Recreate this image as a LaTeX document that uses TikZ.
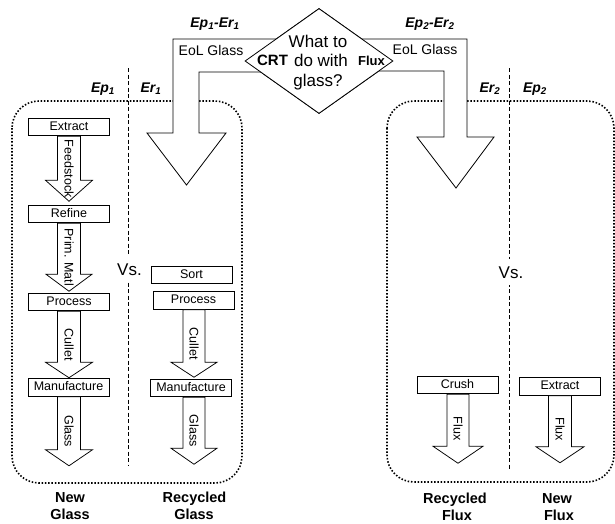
\documentclass[tikz,border=0pt]{standalone}
\usepackage{fontspec}
\setmainfont{Liberation Sans}
\usetikzlibrary{shapes.geometric}
\tikzset{
  procbox/.style={draw, line width=1pt, fill=white, minimum width=81pt, minimum height=17.5pt,
    inner sep=0pt, text height=9pt, text depth=2.6pt, font=\fontsize{12.5}{14}\selectfont},
  fatarrow/.style={draw, line width=0.75pt, fill=white, line join=miter},
  arrlabel/.style={rotate=-90, inner sep=0pt, font=\fontsize{12.5}{14}\selectfont},
  bigarrow/.style={draw, line width=0.8pt, fill=white, line join=miter},
  dotbox/.style={line width=1.6pt, dash pattern=on 1.5pt off 1.8pt, rounded corners=27pt},
  divider/.style={line width=0.8pt, dash pattern=on 4pt off 2.5pt},
  eplabel/.style={anchor=base, inner sep=0pt, font=\fontsize{14}{16}\selectfont\bfseries\itshape},
  eollabel/.style={anchor=base, inner sep=0pt, font=\fontsize{14}{16}\selectfont},
  qtext/.style={anchor=base, inner sep=0pt, font=\fontsize{17}{19.5}\selectfont},
  qbold/.style={anchor=base, inner sep=0pt, font=\fontsize{14}{16}\selectfont\bfseries},
  vslabel/.style={anchor=base, fill=white, inner xsep=3pt, inner ysep=7pt, font=\fontsize{17}{19}\selectfont},
  bottomlabel/.style={anchor=base, inner sep=0pt, font=\fontsize{14.5}{17}\selectfont\bfseries},
}
% #1 start (shaft top centre), #2 shaft length, #3 head length, #4 shaft half width, #5 head half width, #6 label, #7 label name
\newcommand\fatarr[7]{%
  \draw[fatarrow] (#1) ++(-#4,0) -- ++(0,#2) -- ++({#4-#5},0) -- ++(#5,#3) -- ++(#5,-#3)
     -- ++({#4-#5},0) -- ++(0,-#2) -- cycle;
  \path (#1) ++(0,{(#2+#3)/2}) node[arrlabel] (#7) {#6};}
\begin{document}
\begin{tikzpicture}[x=1pt,y=-1pt]
\useasboundingbox (0,0) rectangle (615,523);

% dotted group boxes
\draw[dotbox] (12,101) rectangle (242,483);
\draw[dotbox] (387,101) rectangle (614,482);

% dashed dividers
\draw[divider] (128,68) -- (128,465);
\draw[divider] (509,68) -- (509,470);

% decision
\node[draw, diamond, minimum width=148pt, minimum height=105pt, inner sep=0pt, line width=0.8pt] (q) at (319,61) {};

% big arrows out of the decision
\draw[bigarrow] (q.center |- 0,39) -- (173,39) -- (173,133) -- (147,133) -- (186.5,185)
   -- (226,133) -- (199,133) -- (199,72) -- (q.center |- 0,72) -- cycle;
\draw[bigarrow] (q.center |- 0,39) -- (467,39) -- (467,137) -- (494,137) -- (456,188)
   -- (417,137) -- (444,137) -- (444,71) -- (q.center |- 0,71) -- cycle;
\node[draw, diamond, fill=white, minimum width=148pt, minimum height=105pt, inner sep=0pt, line width=0.8pt] (qd) at (q.center) {};

\node[qtext] (q1) at (318,47) {What to};
\node[qtext] (q2) at (321,66.5) {do with};
\node[qtext] (q3) at (318,86) {glass?};
\node[qbold, font=\fontsize{15}{17}\selectfont\bfseries] (crt) at (272.5,65) {CRT};
\node[qbold, font=\fontsize{13}{15}\selectfont\bfseries] (flux) at (371.5,65) {Flux};

\node[eollabel] (eol1) at (211,55) {EoL Glass};
\node[eollabel] (eol2) at (425,54) {EoL Glass};

\node[eplabel] (per1) at (215,27) {Ep\textsubscript{1}-Er\textsubscript{1}};
\node[eplabel] (per2) at (430,27) {Ep\textsubscript{2}-Er\textsubscript{2}};
\node[eplabel] (ep1) at (103,92) {Ep\textsubscript{1}};
\node[eplabel] (er1) at (151,92) {Er\textsubscript{1}};
\node[eplabel] (er2) at (490,92) {Er\textsubscript{2}};
\node[eplabel] (ep2) at (535,92) {Ep\textsubscript{2}};

\node[vslabel] (vs1) at (129.5,275) {Vs.};
\node[vslabel] (vs2) at (511,278) {Vs.};

% process boxes
\node[procbox] (ext1) at (69,127) {Extract};
\node[procbox] (ref) at (69,214) {Refine};
\node[procbox] (proc1) at (69,302) {Process};
\node[procbox] (man1) at (68.5,387.5) {Manufacture};
\node[procbox] (sort) at (191.5,275) {Sort};
\node[procbox] (proc2) at (193.5,300.5) {Process};
\node[procbox] (man2) at (191,388) {Manufacture};
\node[procbox] (crush) at (457.5,385) {Crush};
\node[procbox] (ext2) at (560,386.5) {Extract};

% fat arrows between boxes
\fatarr{ext1.south}{44}{21}{11.5}{23.5}{Feedstock}{l1}
\fatarr{ref.south}{51}{17}{11.5}{23}{Prim. Matl}{l2}
\fatarr{proc1.south}{51}{15.5}{11.5}{23.5}{Cullet}{l3}
\fatarr{[xshift=0.5pt]man1.south}{53}{16}{11.5}{23.5}{Glass}{l4}
\fatarr{[xshift=0.5pt]proc2.south}{52.5}{15}{11}{23}{Cullet}{l5}
\fatarr{[xshift=3pt]man2.south}{51}{16}{11}{23}{Glass}{l6}
\fatarr{[xshift=0.5pt]crush.south}{52}{17}{11}{25}{Flux}{l7}
\fatarr{ext2.south}{51}{16}{11.5}{24}{Flux}{l8}

% bottom labels
\node[bottomlabel] (b1a) at (70,502) {New};
\node[bottomlabel] (b1b) at (70,519) {Glass};
\node[bottomlabel] (b2a) at (194.5,502) {Recycled};
\node[bottomlabel] (b2b) at (194,519) {Glass};
\node[bottomlabel] (b3a) at (455,503.5) {Recycled};
\node[bottomlabel] (b3b) at (457,520) {Flux};
\node[bottomlabel] (b4a) at (557,503.5) {New};
\node[bottomlabel] (b4b) at (559,520) {Flux};
\end{tikzpicture}
\end{document}
